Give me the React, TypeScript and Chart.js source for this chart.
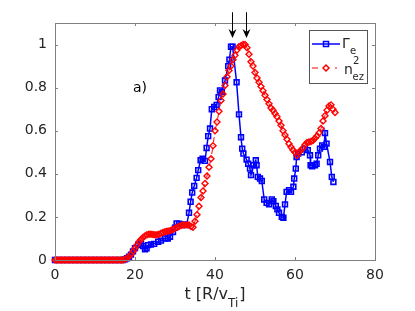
import React, { useEffect, useRef } from "react";
import { Chart, registerables } from "chart.js";
Chart.register(...registerables);

const tBlue = [
  0, 1, 2, 3, 4, 5, 6, 7, 8, 9, 10, 11, 12, 13, 14, 15, 16, 17,
  17.5, 18, 18.5, 19, 19.5, 20, 20.8, 21.5, 22, 22.5,
  22.9, 23.3, 24, 24.8, 25.8, 26.5, 27.5, 28.2, 28.75, 29.5,
  30, 30.4, 31, 31.7, 32.3, 32.9, 33.5, 33.9, 34.3, 34.8,
  35.4, 35.8, 36.4, 36.9, 37.5, 37.9, 38.3, 38.75, 39.2, 39.8,
  40.4, 40.9, 41.25, 41.7, 42.5, 43.3, 43.6, 44, 44.4, 45.4,
  46, 46.5, 46.8, 47.1, 47.9, 48.3, 48.75, 49, 49.6, 50.2,
  50.4, 50.7, 51.25, 51.7, 52.3, 52.9, 53.5, 54.2, 54.6, 55.2,
  55.6, 56, 56.7, 57.1, 57.5, 57.9, 58.5, 59, 59.6, 59.8,
  60.2, 60.4, 60.8, 61.7, 62.5, 63.2, 63.75, 63.9, 64.3, 65,
  65.4, 65.8, 66.25, 66.8, 67.3, 67.5, 67.9, 68.75, 69.2, 69.6,
];
const gammaE = [
  0, 0, 0, 0, 0, 0, 0, 0, 0, 0, 0, 0, 0, 0, 0, 0, 0, 0,
  0.003, 0.008, 0.015, 0.025, 0.04, 0.055, 0.07, 0.075, 0.065, 0.05,
  0.054, 0.069, 0.072, 0.075, 0.085, 0.09, 0.1, 0.1, 0.108, 0.13,
  0.15, 0.17, 0.168, 0.162, 0.165, 0.162, 0.219, 0.27, 0.313, 0.344,
  0.381, 0.417, 0.463, 0.47, 0.46, 0.52, 0.575, 0.61, 0.7, 0.71,
  0.72, 0.756, 0.787, 0.78, 0.833, 0.9, 0.93, 0.99, 0.99, 0.825,
  0.676, 0.57, 0.517, 0.494, 0.466, 0.447, 0.424, 0.394, 0.44, 0.463,
  0.44, 0.386, 0.378, 0.367, 0.281, 0.265, 0.258, 0.281, 0.273, 0.251,
  0.235, 0.219, 0.2, 0.196, 0.258, 0.316, 0.324, 0.316, 0.34, 0.378,
  0.424, 0.478, 0.494, 0.5, 0.517, 0.51, 0.486, 0.44, 0.435, 0.44,
  0.447, 0.486, 0.517, 0.532, 0.525, 0.589, 0.54, 0.455, 0.386, 0.362,
];

const tRed = [
  0, 0.5, 1, 1.5, 2, 2.5, 3, 3.5, 4, 4.5,
  5, 5.5, 6, 6.5, 7, 7.5, 8, 8.5, 9, 9.5,
  10, 10.5, 11, 11.5, 12, 12.5, 13, 13.5, 14, 14.5,
  15, 15.5, 16, 16.5, 17,
  17.5, 18, 18.5, 19, 19.5, 20, 20.5, 21, 21.5, 22,
  22.5, 23, 23.5, 24, 24.5, 25, 25.5, 26, 26.5, 27,
  27.5, 28, 28.5, 29, 29.5, 30, 30.5, 31, 31.5, 32,
  32.5, 33, 33.5, 34, 34.5, 35, 35.5, 36, 36.5, 37,
  37.5, 38, 38.5, 39, 39.5, 40, 40.5, 41, 41.5, 42,
  42.5, 43, 43.5, 44, 44.5, 45, 45.5, 46, 46.5, 47,
  47.5, 48, 48.5, 49, 49.5, 50, 50.5, 51, 51.5, 52,
  52.5, 53, 53.5, 54, 54.5, 55, 55.5, 56, 56.5, 57,
  57.5, 58, 58.5, 59, 59.5, 60, 60.5, 61, 61.5, 62,
  62.5, 63, 63.5, 64, 64.5, 65, 65.5, 66, 66.5, 67,
  67.5, 68, 68.5, 69, 69.5, 70,
];
const nez2 = [
  0, 0, 0, 0, 0, 0, 0, 0, 0, 0,
  0, 0, 0, 0, 0, 0, 0, 0, 0, 0,
  0, 0, 0, 0, 0, 0, 0, 0, 0, 0,
  0, 0, 0, 0, 0,
  0.003, 0.008, 0.015, 0.025, 0.04, 0.055, 0.07, 0.085, 0.095, 0.105,
  0.112, 0.117, 0.12, 0.12, 0.118, 0.117, 0.117, 0.12, 0.124, 0.128,
  0.131, 0.133, 0.135, 0.138, 0.142, 0.147, 0.152, 0.156, 0.16, 0.162,
  0.163, 0.163, 0.162, 0.155, 0.152, 0.18, 0.21, 0.25, 0.29, 0.32,
  0.355, 0.39, 0.43, 0.47, 0.53, 0.6, 0.64, 0.69, 0.74, 0.77,
  0.81, 0.85, 0.88, 0.9, 0.93, 0.95, 0.975, 0.99, 0.995, 1.0,
  1.0, 0.985, 0.955, 0.92, 0.9, 0.87, 0.845, 0.825, 0.805, 0.785,
  0.765, 0.745, 0.725, 0.705, 0.695, 0.68, 0.665, 0.645, 0.625, 0.6,
  0.58, 0.56, 0.54, 0.525, 0.51, 0.5, 0.485, 0.5, 0.51, 0.52,
  0.535, 0.545, 0.548, 0.55, 0.555, 0.565, 0.575, 0.59, 0.61, 0.645,
  0.67, 0.695, 0.715, 0.72, 0.7, 0.685,
];

const xTicks = [0, 20, 40, 60, 80];
const yTicks = [0, 0.2, 0.4, 0.6, 0.8, 1];
const arrowTimes = [44.2, 47.7];
const panelLabel = "a)";

const BLUE = "#0000ff";
const RED = "#ff0000";
const AXIS = "#808080";
const TEXT = "#262626";
const FONT = "'DejaVu Sans', sans-serif";

export default function App() {
  const ref = useRef<HTMLCanvasElement>(null);
  useEffect(() => {
    document.body.style.margin = "0";
    const overlay = {
      id: "overlay",
      afterDatasetsDraw(chart: any) {
        const ctx = chart.ctx;
        const { left, right, top, bottom } = chart.chartArea;
        const xs = chart.scales.x;
        const ys = chart.scales.y;
        ctx.save();
        ctx.strokeStyle = AXIS;
        ctx.lineWidth = 1;
        ctx.strokeRect(Math.round(left) + 0.5, Math.round(top) + 0.5, Math.round(right - left), Math.round(bottom - top));
        ctx.beginPath();
        for (const v of xTicks) {
          const px = Math.round(xs.getPixelForValue(v)) + 0.5;
          ctx.moveTo(px, bottom);
          ctx.lineTo(px, bottom - 3);
          ctx.moveTo(px, top);
          ctx.lineTo(px, top + 3);
        }
        for (const v of yTicks) {
          const py = Math.round(ys.getPixelForValue(v)) + 0.5;
          ctx.moveTo(left, py);
          ctx.lineTo(left + 3, py);
          ctx.moveTo(right, py);
          ctx.lineTo(right - 3, py);
        }
        ctx.stroke();

        // panel label
        ctx.fillStyle = "#000";
        ctx.font = `14px ${FONT}`;
        ctx.textAlign = "left";
        ctx.textBaseline = "middle";
        ctx.fillText(panelLabel, xs.getPixelForValue(19.5), ys.getPixelForValue(0.795));

        // legend
        const lx = 309.5, ly = 30.5, lw = 58, lh = 53;
        ctx.fillStyle = "#fff";
        ctx.fillRect(lx, ly, lw, lh);
        ctx.strokeStyle = "#555";
        ctx.lineWidth = 1;
        ctx.strokeRect(lx, ly, lw, lh);
        // blue sample
        ctx.strokeStyle = BLUE;
        ctx.lineWidth = 1.5;
        ctx.beginPath();
        ctx.moveTo(312, 44);
        ctx.lineTo(340, 44);
        ctx.stroke();
        ctx.strokeRect(323.5, 41.5, 5, 5);
        // red sample
        ctx.strokeStyle = RED;
        ctx.lineWidth = 1.2;
        ctx.beginPath();
        ctx.moveTo(312, 68);
        ctx.lineTo(318, 68);
        ctx.moveTo(335, 68);
        ctx.lineTo(337, 68);
        ctx.stroke();
        ctx.lineWidth = 1.5;
        ctx.beginPath();
        ctx.moveTo(326, 65);
        ctx.lineTo(329, 68);
        ctx.lineTo(326, 71);
        ctx.lineTo(323, 68);
        ctx.closePath();
        ctx.stroke();
        // legend texts
        ctx.fillStyle = TEXT;
        ctx.textBaseline = "alphabetic";
        ctx.textAlign = "left";
        ctx.font = `14px ${FONT}`;
        ctx.fillText("\u0393", 342, 48);
        ctx.font = `10px ${FONT}`;
        ctx.fillText("e", 350, 54);
        ctx.font = `14px ${FONT}`;
        ctx.fillText("n", 344, 74);
        ctx.font = `10px ${FONT}`;
        ctx.fillText("2", 353, 64);
        ctx.fillText("ez", 352.5, 80);

        // x title with subscript
        const main = "t [R/v";
        const sub = "Ti";
        const close = "]";
        ctx.font = `16px ${FONT}`;
        const w1 = ctx.measureText(main).width;
        const w3 = ctx.measureText(close).width;
        ctx.font = `12px ${FONT}`;
        const w2 = ctx.measureText(sub).width;
        const total = w1 + w2 + w3 + 1;
        const x0 = (left + right) / 2 - total / 2;
        ctx.font = `16px ${FONT}`;
        ctx.fillText(main, x0, 299);
        ctx.font = `12px ${FONT}`;
        ctx.fillText(sub, x0 + w1, 307);
        ctx.font = `16px ${FONT}`;
        ctx.fillText(close, x0 + w1 + w2 + 1, 299);
        ctx.restore();
      },
      afterDraw(chart: any) {
        const ctx = chart.ctx;
        const xs = chart.scales.x;
        const ys = chart.scales.y;
        ctx.save();
        ctx.strokeStyle = "#000";
        ctx.fillStyle = "#000";
        ctx.lineWidth = 1;
        for (const t of arrowTimes) {
          const px = Math.round(xs.getPixelForValue(t)) + 0.5;
          const yTop = ys.getPixelForValue(1.15);
          const yTip = ys.getPixelForValue(1.03);
          ctx.beginPath();
          ctx.moveTo(px, yTop);
          ctx.lineTo(px, yTip - 4);
          ctx.stroke();
          ctx.beginPath();
          ctx.moveTo(px, yTip);
          ctx.lineTo(px - 4, yTip - 9);
          ctx.lineTo(px, yTip - 6);
          ctx.lineTo(px + 4, yTip - 9);
          ctx.closePath();
          ctx.fill();
        }
        ctx.restore();
      },
    };

    const chart = new Chart(ref.current as HTMLCanvasElement, {
      type: "line",
      data: {
        datasets: [
          {
            label: "\u0393e",
            data: tBlue.map((x, i) => ({ x, y: gammaE[i] })),
            borderColor: BLUE,
            backgroundColor: "rgba(0,0,0,0)",
            borderWidth: 1.5,
            pointStyle: "rect",
            pointRadius: 3.4,
            pointBorderWidth: 1.6,
            pointBorderColor: BLUE,
            pointBackgroundColor: "rgba(0,0,0,0)",
            tension: 0,
            clip: false,
            order: 1,
          },
          {
            label: "n_ez^2",
            data: tRed.map((x, i) => ({ x, y: nez2[i] })),
            borderColor: RED,
            backgroundColor: "rgba(0,0,0,0)",
            borderWidth: 1,
            borderDash: [5, 3, 1, 3],
            pointStyle: "rectRot",
            pointRadius: 3,
            pointBorderWidth: 1.4,
            pointBorderColor: RED,
            pointBackgroundColor: "rgba(0,0,0,0)",
            tension: 0,
            clip: false,
            order: 0,
          },
        ],
      } as any,
      options: {
        responsive: false,
        animation: false,
        events: [],
        layout: { padding: { left: 0, top: 23, right: 40, bottom: 0 } },
        plugins: { legend: { display: false }, tooltip: { enabled: false }, title: { display: false } },
        scales: {
          x: {
            type: "linear",
            min: 0,
            max: 80,
            afterBuildTicks: (s: any) => {
              s.ticks = xTicks.map((v) => ({ value: v }));
            },
            afterFit: (s: any) => {
              s.height = 51;
            },
            grid: { display: false, drawTicks: false },
            border: { display: false },
            ticks: { padding: 7, color: TEXT, font: { family: FONT, size: 14 }, maxRotation: 0 },
          },
          y: {
            type: "linear",
            min: 0,
            max: 1.1,
            afterBuildTicks: (s: any) => {
              s.ticks = yTicks.map((v) => ({ value: v }));
            },
            afterFit: (s: any) => {
              s.width = 55;
            },
            grid: { display: false, drawTicks: false },
            border: { display: false },
            ticks: {
              padding: 8,
              color: TEXT,
              font: { family: FONT, size: 14 },
              callback: (v: any) => String(+Number(v).toFixed(1)),
            },
          },
        },
      } as any,
      plugins: [overlay],
    });
    return () => chart.destroy();
  }, []);
  return <canvas ref={ref} width={415} height={311} style={{ display: "block" }} />;
}
